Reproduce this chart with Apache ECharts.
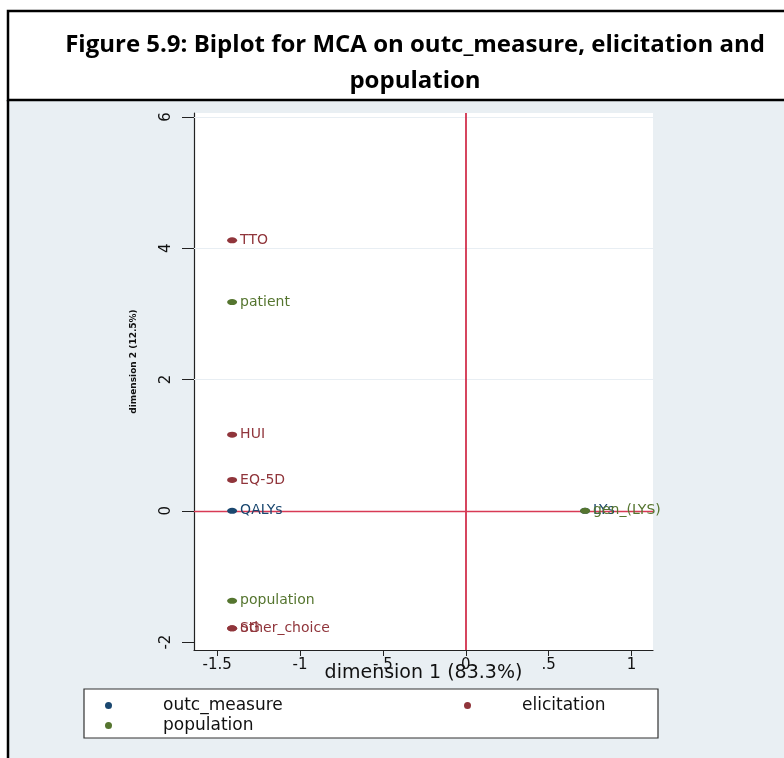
<!DOCTYPE html>
<html>
<head>
<meta charset="utf-8">
<script src="https://cdn.jsdelivr.net/npm/echarts@6/dist/echarts.min.js"></script>
<style>
  html, body { margin: 0; padding: 0; background: #ffffff; }
  #chart { width: 784px; height: 758px; }
</style>
</head>
<body>
<div id="chart"></div>
<script>
// MCA category coordinates (dimension 1, dimension 2) per variable
const outcLabels = ['QALYs', 'LYs'];
const outcDim1 = [-1.41, 0.72];
const outcDim2 = [0.0, 0.0];

const elicLabels = ['TTO', 'HUI', 'EQ-5D', 'SG', 'other_choice'];
const elicDim1 = [-1.41, -1.41, -1.41, -1.41, -1.41];
const elicDim2 = [4.12, 1.16, 0.47, -1.79, -1.79];

const popLabels = ['patient', 'population', 'gen_(LYS)'];
const popDim1 = [-1.41, -1.41, 0.72];
const popDim2 = [3.18, -1.37, 0.0];

// Axis ticks
const xTicks = [-1.5, -1, -0.5, 0, 0.5, 1];
const yTicks = [-2, 0, 2, 4, 6];
const yGrid = [2, 4, 6];

const seriesNames = ['outc_measure', 'elicitation', 'population'];
const colors = ['#1a476f', '#90353b', '#55752f'];

function points(labels, xs, ys) {
  return labels.map((n, i) => ({ name: n, value: [xs[i], ys[i]] }));
}

function fmtTick(v) {
  if (v === 0) return '0';
  return String(v).replace(/^0\./, '.').replace(/^-0\./, '-.');
}

const labelFont = 'DejaVu Sans';

function scatter(idx, data) {
  return {
    name: seriesNames[idx],
    type: 'scatter',
    data: data,
    symbol: 'circle',
    symbolSize: [10, 6],
    itemStyle: { color: colors[idx], opacity: 1 },
    label: {
      show: true,
      position: 'right',
      distance: 3,
      formatter: p => p.name,
      color: colors[idx],
      fontFamily: labelFont,
      fontSize: 14
    },
    labelLayout: { hideOverlap: false },
    z: 3
  };
}

const chart = echarts.init(document.getElementById('chart'), null, { renderer: 'canvas' });

const legendText = {
  fontFamily: labelFont,
  fontSize: 17,
  color: '#111',
  rich: {
    pad: { width: 44 },
    padR: { width: 44 }
  }
};

chart.setOption({
  backgroundColor: '#ffffff',
  animation: false,
  color: colors,
  graphic: [
    // panel behind the plot
    { type: 'rect', shape: { x: 8, y: 100, width: 790, height: 670 },
      style: { fill: '#e9eff3' }, z: -10, silent: true },
    // title box
    { type: 'rect', shape: { x: 8, y: 11, width: 800, height: 89 },
      style: { fill: '#ffffff', stroke: '#000000', lineWidth: 2.5 }, z: -9, silent: true },
    { type: 'line', shape: { x1: 8, y1: 100, x2: 8, y2: 770 },
      style: { stroke: '#000000', lineWidth: 2.5 }, z: -8, silent: true },
    // legend box
    { type: 'rect', shape: { x: 84, y: 689, width: 574, height: 49 },
      style: { fill: '#ffffff', stroke: '#333333', lineWidth: 1.2 }, z: -7, silent: true }
  ],
  title: {
    text: 'Figure 5.9: Biplot for MCA on outc_measure, elicitation and\npopulation',
    left: 410,
    top: 22,
    textAlign: 'center',
    textStyle: {
      fontFamily: 'Open Sans',
      fontWeight: 'bold',
      fontSize: 24,
      lineHeight: 36,
      color: '#000'
    }
  },
  legend: [
    {
      data: ['outc_measure', 'population'],
      orient: 'vertical',
      left: 100,
      top: 692,
      itemGap: 3,
      itemWidth: 11,
      itemHeight: 7,
      icon: 'circle',
      formatter: n => '{pad| }' + n,
      textStyle: legendText
    },
    {
      data: ['elicitation'],
      orient: 'horizontal',
      left: 459,
      top: 692,
      itemWidth: 11,
      itemHeight: 7,
      icon: 'circle',
      formatter: n => '{padR| }' + n,
      textStyle: legendText
    }
  ],
  grid: {
    left: 194,
    right: 131,
    top: 113,
    bottom: 108,
    show: true,
    backgroundColor: '#ffffff',
    borderWidth: 0
  },
  xAxis: {
    type: 'value',
    min: -1.64,
    max: 1.13,
    name: 'dimension 1 (83.3%)',
    nameLocation: 'middle',
    nameGap: 14,
    nameMoveOverlap: false,
    nameTextStyle: { fontFamily: labelFont, fontSize: 19, color: '#111' },
    axisLine: { show: true, onZero: false, lineStyle: { color: '#222', width: 1.2 } },
    axisTick: { show: true, length: 6, customValues: xTicks, lineStyle: { color: '#222' } },
    axisLabel: {
      customValues: xTicks,
      formatter: fmtTick,
      fontFamily: labelFont,
      fontSize: 15,
      color: '#111',
      margin: 8
    },
    splitLine: { show: false }
  },
  yAxis: {
    type: 'value',
    min: -2.12,
    max: 6.06,
    name: 'dimension 2 (12.5%)',
    nameLocation: 'middle',
    nameGap: 56,
    nameRotate: 90,
    nameMoveOverlap: false,
    nameTextStyle: { fontFamily: labelFont, fontSize: 9, fontWeight: 'bold', color: '#111', padding: [0, 0, 0, 40] },
    axisLine: { show: true, onZero: false, lineStyle: { color: '#222', width: 1.2 } },
    axisTick: { show: true, length: 12, customValues: yTicks, lineStyle: { color: '#222' } },
    axisLabel: {
      customValues: yTicks,
      rotate: 90,
      formatter: v => String(v),
      fontFamily: labelFont,
      fontSize: 15,
      color: '#111',
      margin: 20
    },
    splitLine: { show: false }
  },
  series: [
    Object.assign(scatter(0, points(outcLabels, outcDim1, outcDim2)), {
      markLine: {
        silent: true,
        symbol: 'none',
        label: { show: false },
        data: [
          ...yGrid.map(v => ({ yAxis: v, lineStyle: { color: '#e8eef3', width: 1, type: 'solid' } })),
          { xAxis: 0, lineStyle: { color: '#cc1736', width: 1.6, type: 'solid' } },
          { yAxis: 0, lineStyle: { color: '#d83a55', width: 1.4, type: 'solid' } }
        ],
        z: 2
      }
    }),
    scatter(1, points(elicLabels, elicDim1, elicDim2)),
    scatter(2, points(popLabels, popDim1, popDim2))
  ]
});
</script>
</body>
</html>
